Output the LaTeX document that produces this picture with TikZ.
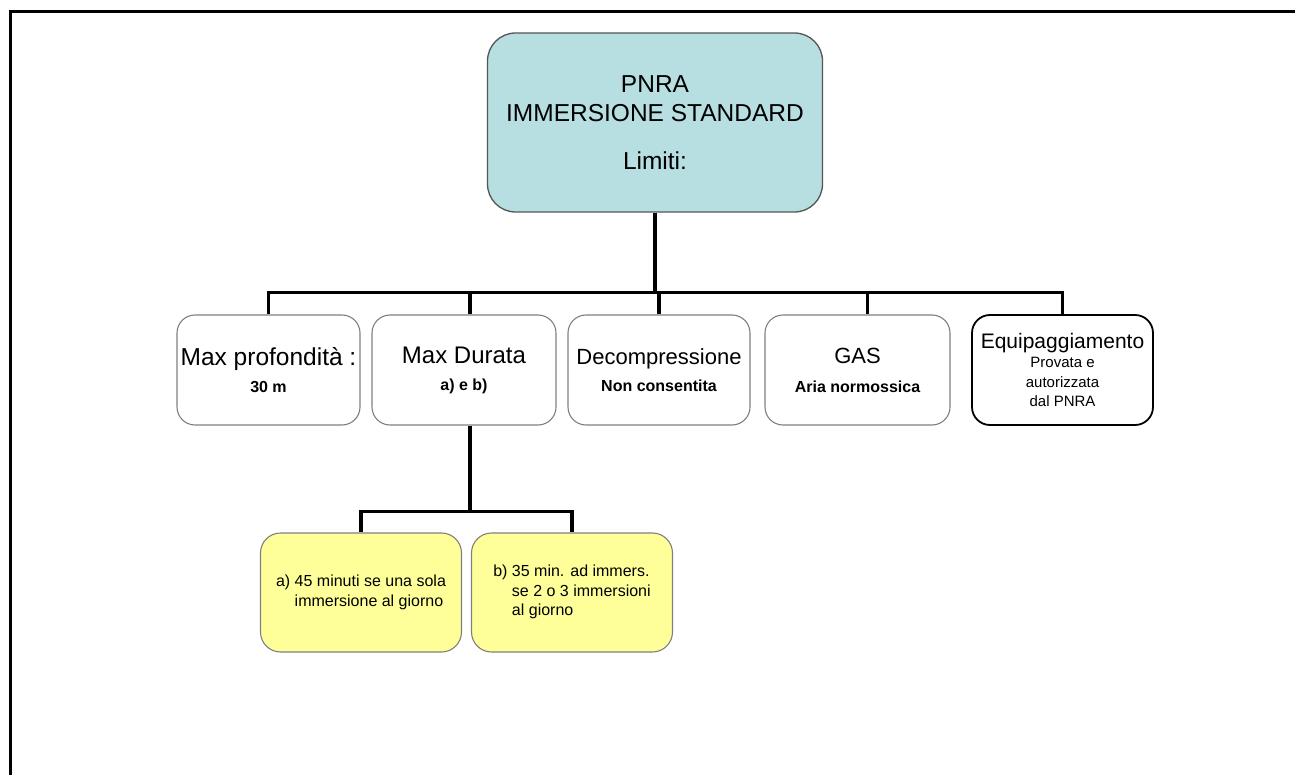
\documentclass[tikz,border=0pt]{standalone}
\usepackage{fontspec}
\setmainfont{Liberation Sans}

\definecolor{pnrafill}{HTML}{B7DEE1}
\definecolor{notefill}{HTML}{FFFF99}
\definecolor{boxgray}{HTML}{7F7F7F}
\definecolor{topgray}{HTML}{555555}

\newcommand\lvh{110pt}
\newcommand\lvy{370}
\newcommand\notey{594}
\newcommand\subfont{\fontsize{16}{27}\selectfont\bfseries}

\begin{document}
\begin{tikzpicture}[x=1pt,y=-1pt,
    conn/.style={line width=3.2pt},
    limitbox/.style={draw=boxgray,line width=1.1pt,rounded corners=18pt,
      minimum height=\lvh,inner sep=0pt,align=center,
      font=\fontsize{22}{27}\selectfont},
    notebox/.style={draw=boxgray,line width=1.1pt,fill=notefill,rounded corners=20pt,
      minimum width=201pt,minimum height=119pt,inner sep=0pt,
      font=\fontsize{16}{19.5}\selectfont}]
    \useasboundingbox (0,0) rectangle (1295,775);
    \draw[line width=3pt] (10,775) -- (10,12) -- (1295,12);

    % top box
    \node[limitbox,fill=pnrafill,draw=topgray,line width=1.3pt,rounded corners=28pt,
      minimum width=335pt,minimum height=179pt,font=\fontsize{24.5}{29}\selectfont]
      (pnra) at (655,122.5) {PNRA\\IMMERSIONE STANDARD\\[19pt]Limiti:};

    % limits
    \node[limitbox,minimum width=183pt,font=\fontsize{24.5}{27}\selectfont] (prof) at (268.5,\lvy) {Max profondità :\\{\subfont 30 m}};
    \node[limitbox,minimum width=184pt,font=\fontsize{24}{27}\selectfont] (dur) at (464,\lvy) {Max Durata\\{\subfont a) e b)}};
    \node[limitbox,minimum width=182pt] (dec) at (659,\lvy) {Decompressione\\{\subfont Non consentita}};
    \node[limitbox,minimum width=185pt,font=\fontsize{22}{29}\selectfont] (gas) at (857.5,\lvy) {GAS\\{\subfont Aria normossica}};
    \node[limitbox,minimum width=181pt,draw=black,line width=1.8pt,font=\fontsize{15}{19.5}\selectfont]
      (equip) at (1062.5,\lvy) {{\fontsize{21}{21}\selectfont Equipaggiamento}\\Provata e\\autorizzata\\dal PNRA};

    % durata a) e b)
    \node[notebox] (mina) at (361,592.5) {\begin{tabular}{@{}l@{ }l@{}}a) & 45 minuti se una sola\\ & immersione al giorno\end{tabular}};
    \node[notebox] (minb) at (572,592.5) {\begin{tabular}{@{}l@{ }l@{}}b) & 35 min. ad immers.\\ & se 2 o 3 immersioni\\ & al giorno\end{tabular}};

    \draw[conn] (pnra.south) -- ++(0,80) coordinate (hub);
    \draw[conn] (prof.north) |- (hub) -| (equip.north);
    \draw[conn] ([xshift=6pt]dur.north) -- ++(0,-23);
    \draw[conn] (dec.north) -- ++(0,-23);
    \draw[conn] ([xshift=10pt]gas.north) -- ++(0,-23);
    \draw[conn] ([xshift=6pt]dur.south) -- ++(0,86) coordinate (split);
    \draw[conn] (mina.north) |- (split) -| (minb.north);
\end{tikzpicture}
\end{document}
